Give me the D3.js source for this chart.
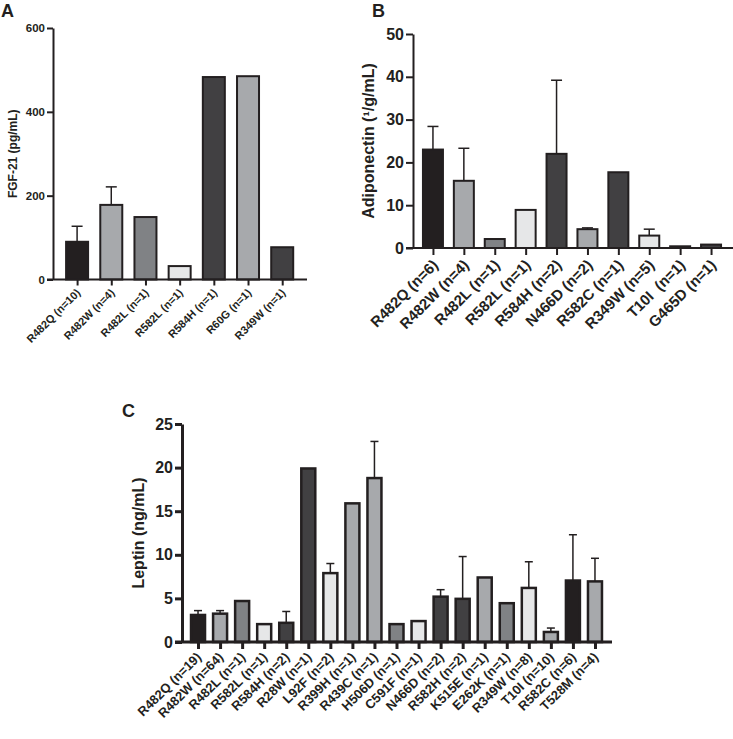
<!DOCTYPE html>
<html>
<head>
<meta charset="utf-8">
<script src="https://cdn.jsdelivr.net/npm/d3@7"></script>
<style>
  body { margin: 0; background: #fff; }
  svg { display: block; font-family: "Liberation Sans", Arial, sans-serif; font-weight: bold; }
</style>
</head>
<body>
<svg id="chart" width="733" height="739"></svg>
<script>
// fill colours used by the figure
const BLACK = '#231f20', DARK = '#414042', MID = '#808285', LIGHT = '#a7a9ac', PALE = '#e6e7e8';

// panel A - FGF-21
const fgfLabels = ['R482Q (n=10)', 'R482W (n=4)', 'R482L (n=1)', 'R582L (n=1)', 'R584H (n=1)', 'R60G (n=1)', 'R349W (n=1)'];
const fgfValues = [90, 178, 149, 32, 483, 485, 77];
const fgfErrors = [127, 221, null, null, null, null, null];
const fgfFills = [BLACK, LIGHT, MID, PALE, DARK, LIGHT, DARK];
const fgfTicks = [0, 200, 400, 600];

// panel B - Adiponectin
const adipoLabels = ['R482Q (n=6)', 'R482W (n=4)', 'R482L (n=1)', 'R582L (n=1)', 'R584H (n=2)', 'N466D (n=2)', 'R582C (n=1)', 'R349W (n=5)', 'T10I  (n=1)', 'G465D (n=1)'];
const adipoValues = [23, 15.7, 2.1, 8.9, 22, 4.4, 17.7, 2.9, 0.4, 0.8];
const adipoErrors = [28.4, 23.3, null, null, 39.2, 4.7, null, 4.4, null, null];
const adipoFills = [BLACK, LIGHT, MID, PALE, DARK, LIGHT, DARK, PALE, DARK, DARK];
const adipoTicks = [0, 10, 20, 30, 40, 50];

// panel C - Leptin
const leptinLabels = ['R482Q (n=19)', 'R482W (n=64)', 'R482L (n=1)', 'R582L (n=1)', 'R584H (n=2)', 'R28W (n=1)', 'L92F (n=2)', 'R399H (n=1)', 'R439C (n=1)', 'H506D (n=1)', 'C591F (n=1)', 'N466D (n=2)', 'R582H (n=2)', 'K515E (n=1)', 'E262K (n=1)', 'R349W (n=8)', 'T10I (n=10)', 'R582C (n=6)', 'T528M (n=4)'];
const leptinValues = [3.1, 3.25, 4.7, 2.05, 2.2, 19.9, 7.9, 15.9, 18.8, 2.05, 2.4, 5.2, 4.95, 7.4, 4.45, 6.2, 1.15, 7.05, 6.95];
const leptinErrors = [3.6, 3.6, null, null, 3.5, null, 9.0, null, 23.0, null, null, 6.0, 9.8, null, null, 9.2, 1.6, 12.3, 9.6];
const leptinFills = [BLACK, LIGHT, MID, PALE, DARK, DARK, PALE, LIGHT, LIGHT, MID, PALE, DARK, DARK, LIGHT, MID, PALE, LIGHT, BLACK, LIGHT];
const leptinTicks = [0, 5, 10, 15, 20, 25];

const svg = d3.select('#chart');

function drawPanel(opt) {
  const g = svg.append('g');

  const y = d3.scaleLinear()
    .domain([0, d3.max(opt.ticks)])
    .range([opt.y0, opt.y1]);

  const x = d3.scalePoint()
    .domain(opt.labels)
    .range([opt.x0, opt.x1])
    .padding(0.5);

  // bars
  g.selectAll('rect.bar')
    .data(opt.values)
    .enter()
    .append('rect')
    .attr('class', 'bar')
    .attr('x', (d, i) => x(opt.labels[i]) - opt.barW / 2)
    .attr('y', d => y(d))
    .attr('width', opt.barW)
    .attr('height', d => opt.y0 - y(d))
    .attr('fill', (d, i) => opt.fills[i])
    .attr('stroke', BLACK)
    .attr('stroke-width', opt.barStroke);

  // error bars (upper only)
  opt.errors.forEach((e, i) => {
    if (e == null) return;
    const cx = x(opt.labels[i]);
    g.append('line')
      .attr('x1', cx).attr('x2', cx)
      .attr('y1', y(opt.values[i])).attr('y2', y(e))
      .attr('stroke', BLACK).attr('stroke-width', 1.5);
    g.append('line')
      .attr('x1', cx - opt.capW / 2).attr('x2', cx + opt.capW / 2)
      .attr('y1', y(e)).attr('y2', y(e))
      .attr('stroke', BLACK).attr('stroke-width', 1.5);
  });

  // y axis
  const yAxis = g.append('g')
    .attr('transform', `translate(${opt.axisX},0)`)
    .call(d3.axisLeft(y).tickValues(opt.ticks).tickSize(opt.tickLen).tickSizeOuter(0).tickPadding(2));
  yAxis.select('.domain').attr('stroke', BLACK).attr('stroke-width', opt.axisW);
  yAxis.selectAll('.tick line').attr('stroke', BLACK).attr('stroke-width', opt.axisW);
  yAxis.selectAll('.tick text')
    .attr('fill', BLACK)
    .style('font-size', opt.tickFont + 'px')
    .style('font-weight', 'bold')
    .style('font-family', '"Liberation Sans", Arial, sans-serif');

  // x axis
  const xAxis = g.append('g')
    .attr('transform', `translate(0,${opt.y0})`)
    .call(d3.axisBottom(x).tickSize(opt.tickLen).tickSizeOuter(0).tickFormat(''));
  xAxis.select('.domain').remove();
  xAxis.selectAll('.tick line').attr('stroke', BLACK).attr('stroke-width', opt.axisW);
  g.append('line')
    .attr('x1', opt.axisX - opt.tickLen).attr('x2', opt.axisEnd)
    .attr('y1', opt.y0).attr('y2', opt.y0)
    .attr('stroke', BLACK).attr('stroke-width', opt.axisW);

  g.selectAll('text.xlab')
    .data(opt.labels)
    .enter()
    .append('text')
    .attr('class', 'xlab')
    .attr('transform', d => `translate(${x(d) + opt.labDx},${opt.y0 + opt.labDy}) rotate(-45)`)
    .attr('text-anchor', 'end')
    .attr('fill', BLACK)
    .style('font-size', opt.labFont + 'px')
    .style('white-space', 'pre')
    .text(d => d);

  // y title
  g.append('text')
    .attr('transform', `translate(${opt.titleX},${(opt.y0 + opt.y1) / 2}) rotate(-90)`)
    .attr('text-anchor', 'middle')
    .attr('fill', BLACK)
    .style('font-size', opt.titleFont + 'px')
    .text(opt.title);

  // panel letter
  g.append('text')
    .attr('x', opt.letterX).attr('y', opt.letterY)
    .attr('fill', BLACK)
    .style('font-size', '18px')
    .text(opt.letter);
}

drawPanel({
  letter: 'A', letterX: 1, letterY: 17,
  labels: fgfLabels, values: fgfValues, errors: fgfErrors, fills: fgfFills, ticks: fgfTicks,
  title: 'FGF-21 (pg/mL)', titleX: 17, titleFont: 12,
  axisX: 53, axisEnd: 307, y0: 279.5, y1: 28, x0: 60, x1: 299.3,
  barW: 22, barStroke: 2, capW: 11, axisW: 2, tickLen: 6, tickFont: 11.5,
  labFont: 11, labDx: 4, labDy: 14
});

drawPanel({
  letter: 'B', letterX: 372, letterY: 17,
  labels: adipoLabels, values: adipoValues, errors: adipoErrors, fills: adipoFills, ticks: adipoTicks,
  title: 'Adiponectin (\u00B9/g/mL)', titleX: 374, titleFont: 16,
  axisX: 413, axisEnd: 733, y0: 248, y1: 34, x0: 417.5, x1: 726.5,
  barW: 20, barStroke: 2, capW: 11, axisW: 2, tickLen: 7, tickFont: 16,
  labFont: 15, labDx: 6, labDy: 18
});

drawPanel({
  letter: 'C', letterX: 122, letterY: 417,
  labels: leptinLabels, values: leptinValues, errors: leptinErrors, fills: leptinFills, ticks: leptinTicks,
  title: 'Leptin (ng/mL)', titleX: 144, titleFont: 16,
  axisX: 182, axisEnd: 612, y0: 642, y1: 424, x0: 187, x1: 606,
  barW: 14, barStroke: 2.5, capW: 8, axisW: 3, tickLen: 7, tickFont: 16,
  labFont: 13, labDx: 4, labDy: 16
});
</script>
</body>
</html>
